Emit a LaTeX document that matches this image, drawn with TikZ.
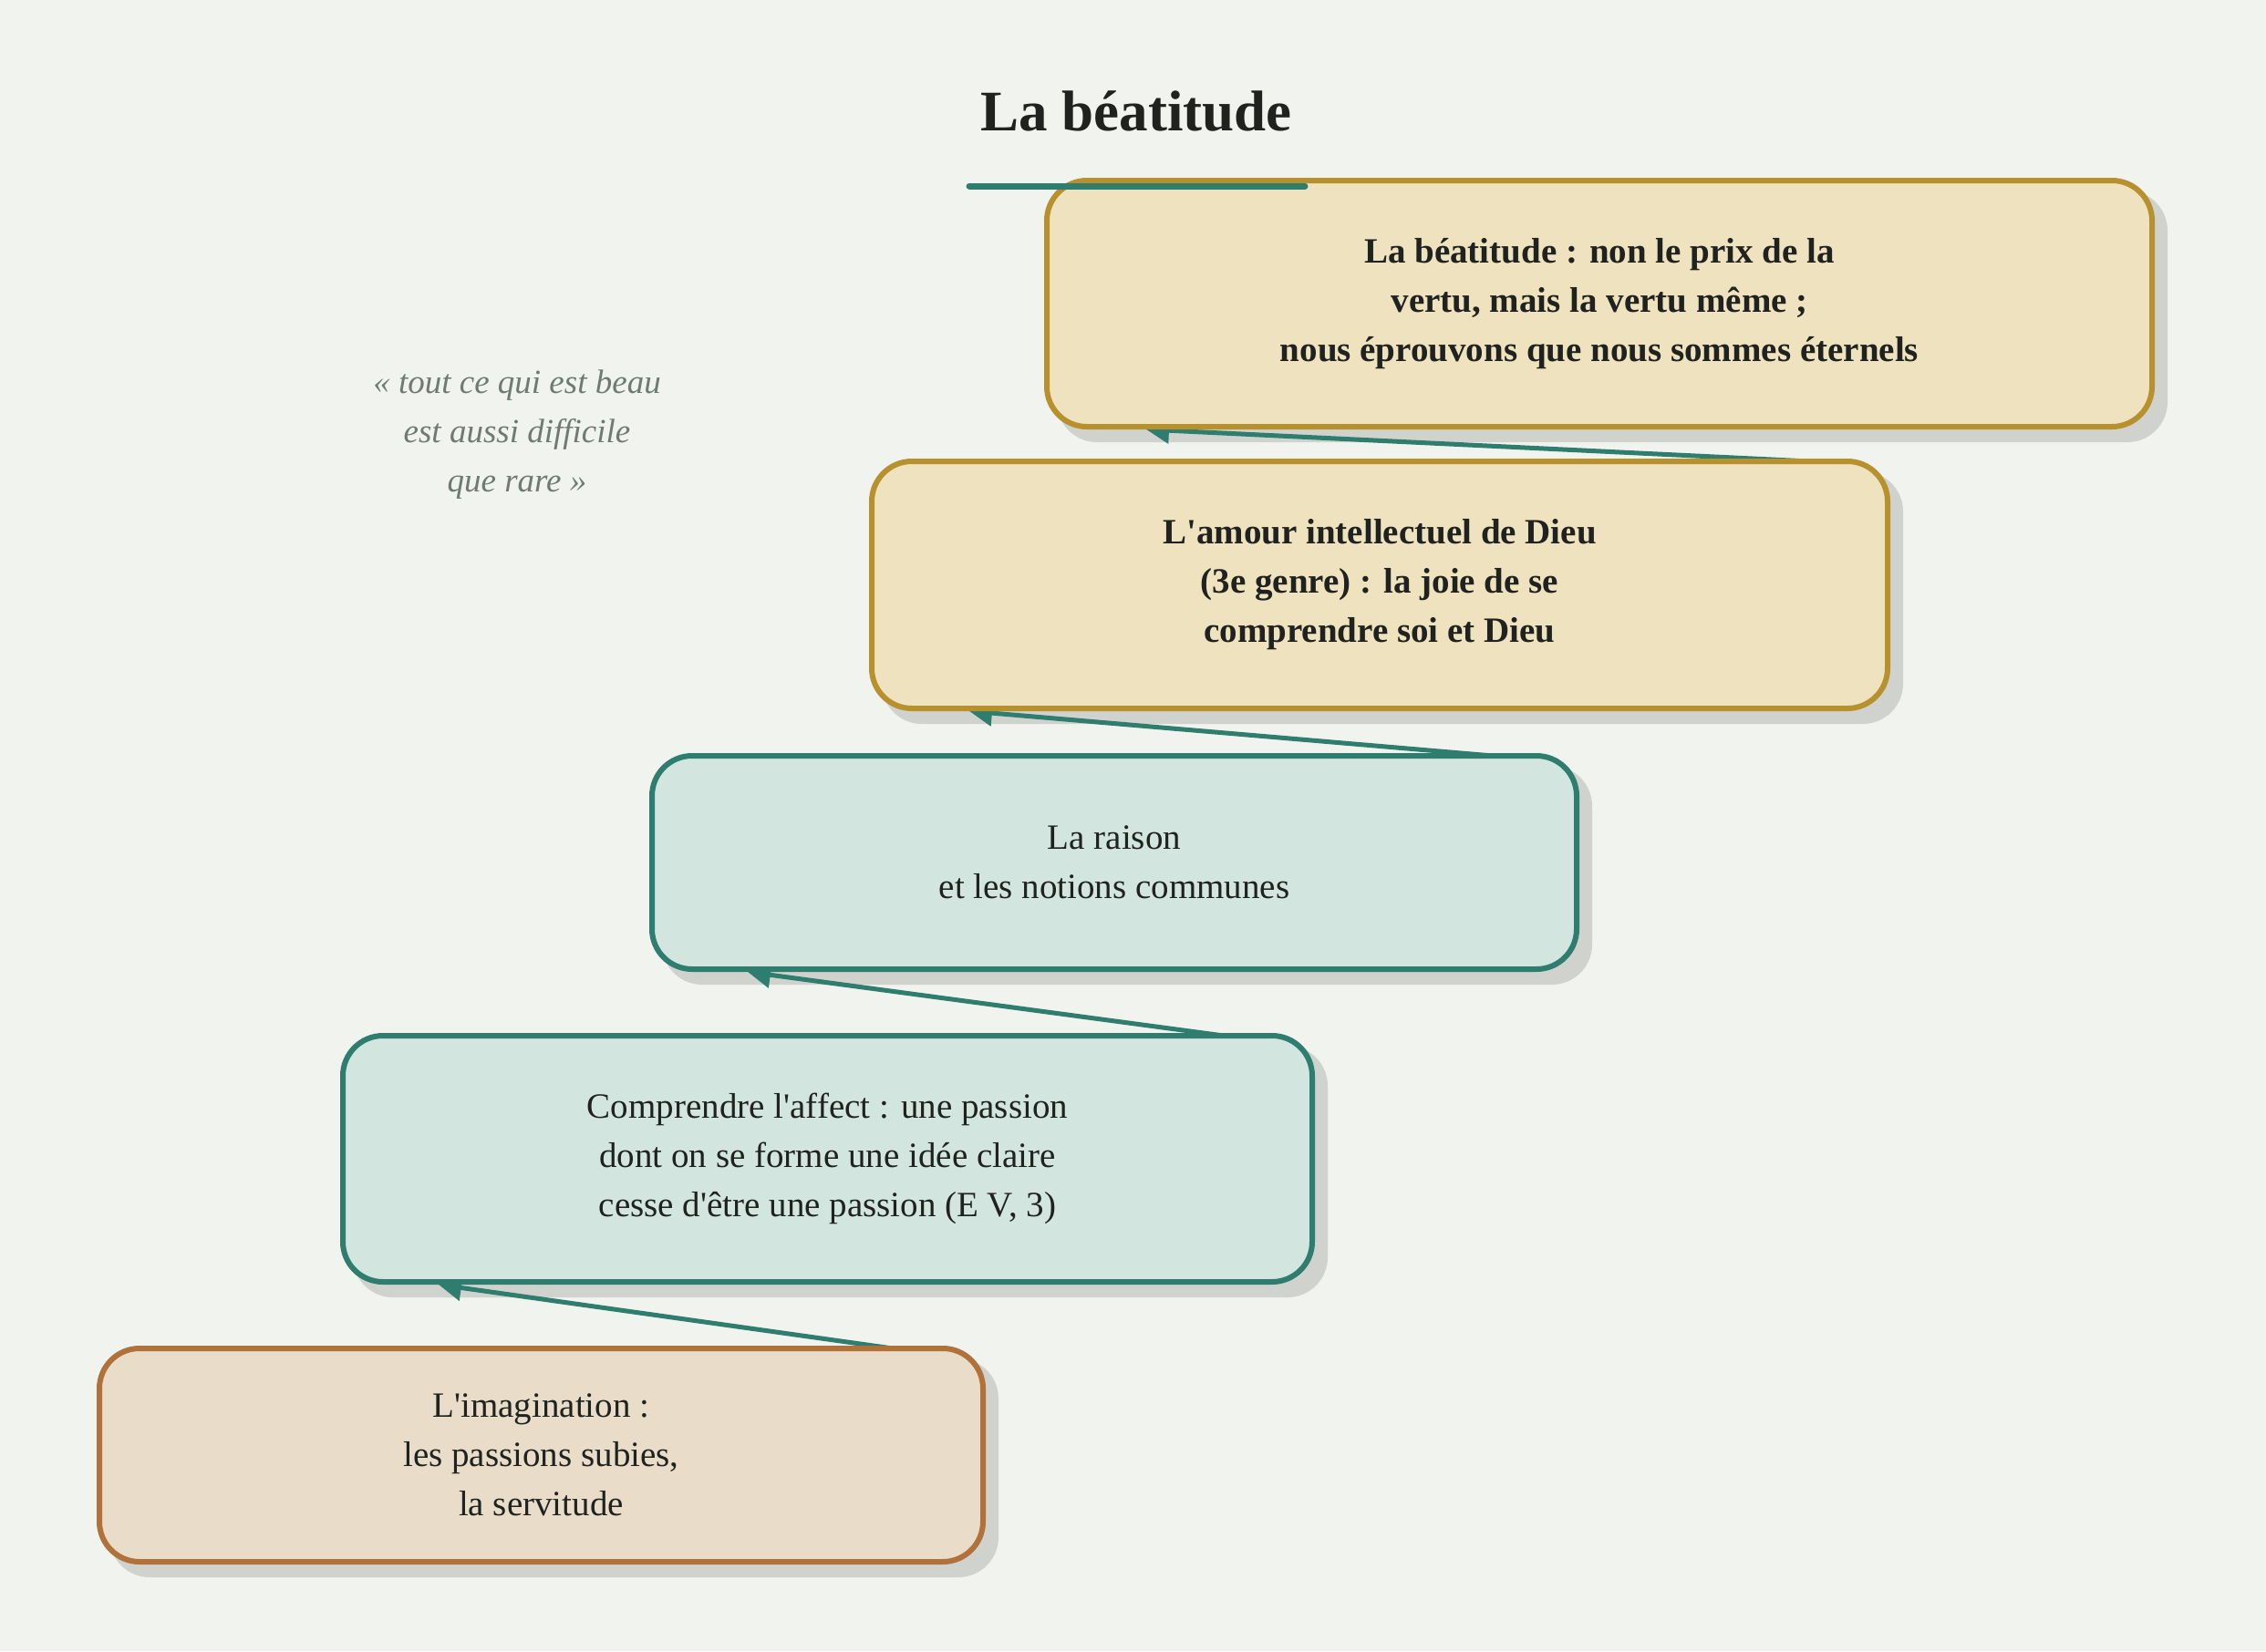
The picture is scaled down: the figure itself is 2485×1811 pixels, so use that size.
\documentclass[tikz,border=0pt]{standalone}
\usepackage{fontspec}
\setmainfont{Liberation Serif}[Ligatures=TeXOff]
\usetikzlibrary{arrows.meta,calc}
\pgfdeclarelayer{bglayer}
\pgfdeclarelayer{shadowlayer}
\pgfdeclarelayer{arrowlayer}
\pgfsetlayers{bglayer,shadowlayer,arrowlayer,main}
\definecolor{bgc}{HTML}{F1F3EE}
\definecolor{goldfill}{HTML}{EFE2BF}
\definecolor{goldline}{HTML}{B8912F}
\definecolor{tealfill}{HTML}{D2E6DF}
\definecolor{tealline}{HTML}{2E7D6E}
\definecolor{brownfill}{HTML}{E9DDC9}
\definecolor{brownline}{HTML}{B1713A}
\definecolor{shadowc}{HTML}{D0D2CD}
\definecolor{ink}{HTML}{1F221F}
\definecolor{quotec}{HTML}{6E7A72}
\tikzset{
  box/.style={rectangle, rounded corners=22pt, line width=3pt, align=center,
    text=ink, inner sep=0pt, font=\fontsize{19.5}{27}\selectfont},
  goldbox/.style={box, draw=goldline, fill=goldfill, font=\fontsize{19.5}{27}\selectfont\bfseries},
  tealbox/.style={box, draw=tealline, fill=tealfill},
  brownbox/.style={box, draw=brownline, fill=brownfill},
  arr/.style={draw=tealline, line width=2.5pt, -{Triangle[length=12.5pt,width=14pt]}},
  shadowbox/.style={fill=shadowc, rounded corners=22pt}
}
\begin{document}
\begin{tikzpicture}[x=0.5pt,y=-0.5pt]
\useasboundingbox (0,0) rectangle (2485,1811);
\begin{pgfonlayer}{bglayer}
\fill[bgc] (0,0) rectangle (2485,1811);
\end{pgfonlayer}

\node[font=\fontsize{31.5}{36}\selectfont\bfseries, text=ink, anchor=base] (title) at (1246,143) {La béatitude};

\node[font=\fontsize{18.5}{27}\selectfont\itshape, text=quotec, align=center] (quote) at (567,477)
  {« tout ce qui est beau\\est aussi difficile\\que rare »};

\node[goldbox, minimum width=606pt, minimum height=135pt] (b5) at (1754,333)
  {La béatitude : non le prix de la\\vertu, mais la vertu même ;\\nous éprouvons que nous sommes éternels};
\node[goldbox, minimum width=557pt, minimum height=135.5pt] (b4) at (1513,641.5)
  {L'amour intellectuel de Dieu\\(3e genre) : la joie de se\\comprendre soi et Dieu};
\node[tealbox, minimum width=507pt, minimum height=117pt] (b3) at (1222,946)
  {La raison\\et les notions communes};
\node[tealbox, minimum width=531.5pt, minimum height=135pt] (b2) at (907.5,1271)
  {Comprendre l'affect : une passion\\dont on se forme une idée claire\\cesse d'être une passion (E V, 3)};
\node[brownbox, minimum width=484.5pt, minimum height=117pt] (b1) at (593.5,1596)
  {L'imagination :\\les passions subies,\\la servitude};

\begin{pgfonlayer}{shadowlayer}
\foreach \n in {b1,b2,b3,b4,b5}
  \fill[shadowbox] ($(\n.south west)+(14,14)$) rectangle ($(\n.north east)+(14,14)$);
\end{pgfonlayer}

\begin{pgfonlayer}{arrowlayer}
\draw[arr] ($(b1.north east)+(-102,3)$) -- ($(b2.south west)+(108,0)$);
\draw[arr] ($(b2.north east)+(-100,3)$) -- ($(b3.south west)+(108,0)$);
\draw[arr] ($(b3.north east)+(-95,3)$) -- ($(b4.south west)+(110,0)$);
\draw[arr] ($(b4.north east)+(-89,3)$) -- ($(b5.south west)+(112,0)$);
\end{pgfonlayer}

\coordinate (ula) at (1063,204);
\coordinate (ulb) at (1431,204);
\draw[tealline, line width=3.5pt, line cap=round] (ula) -- (ulb);
\end{tikzpicture}
\end{document}
